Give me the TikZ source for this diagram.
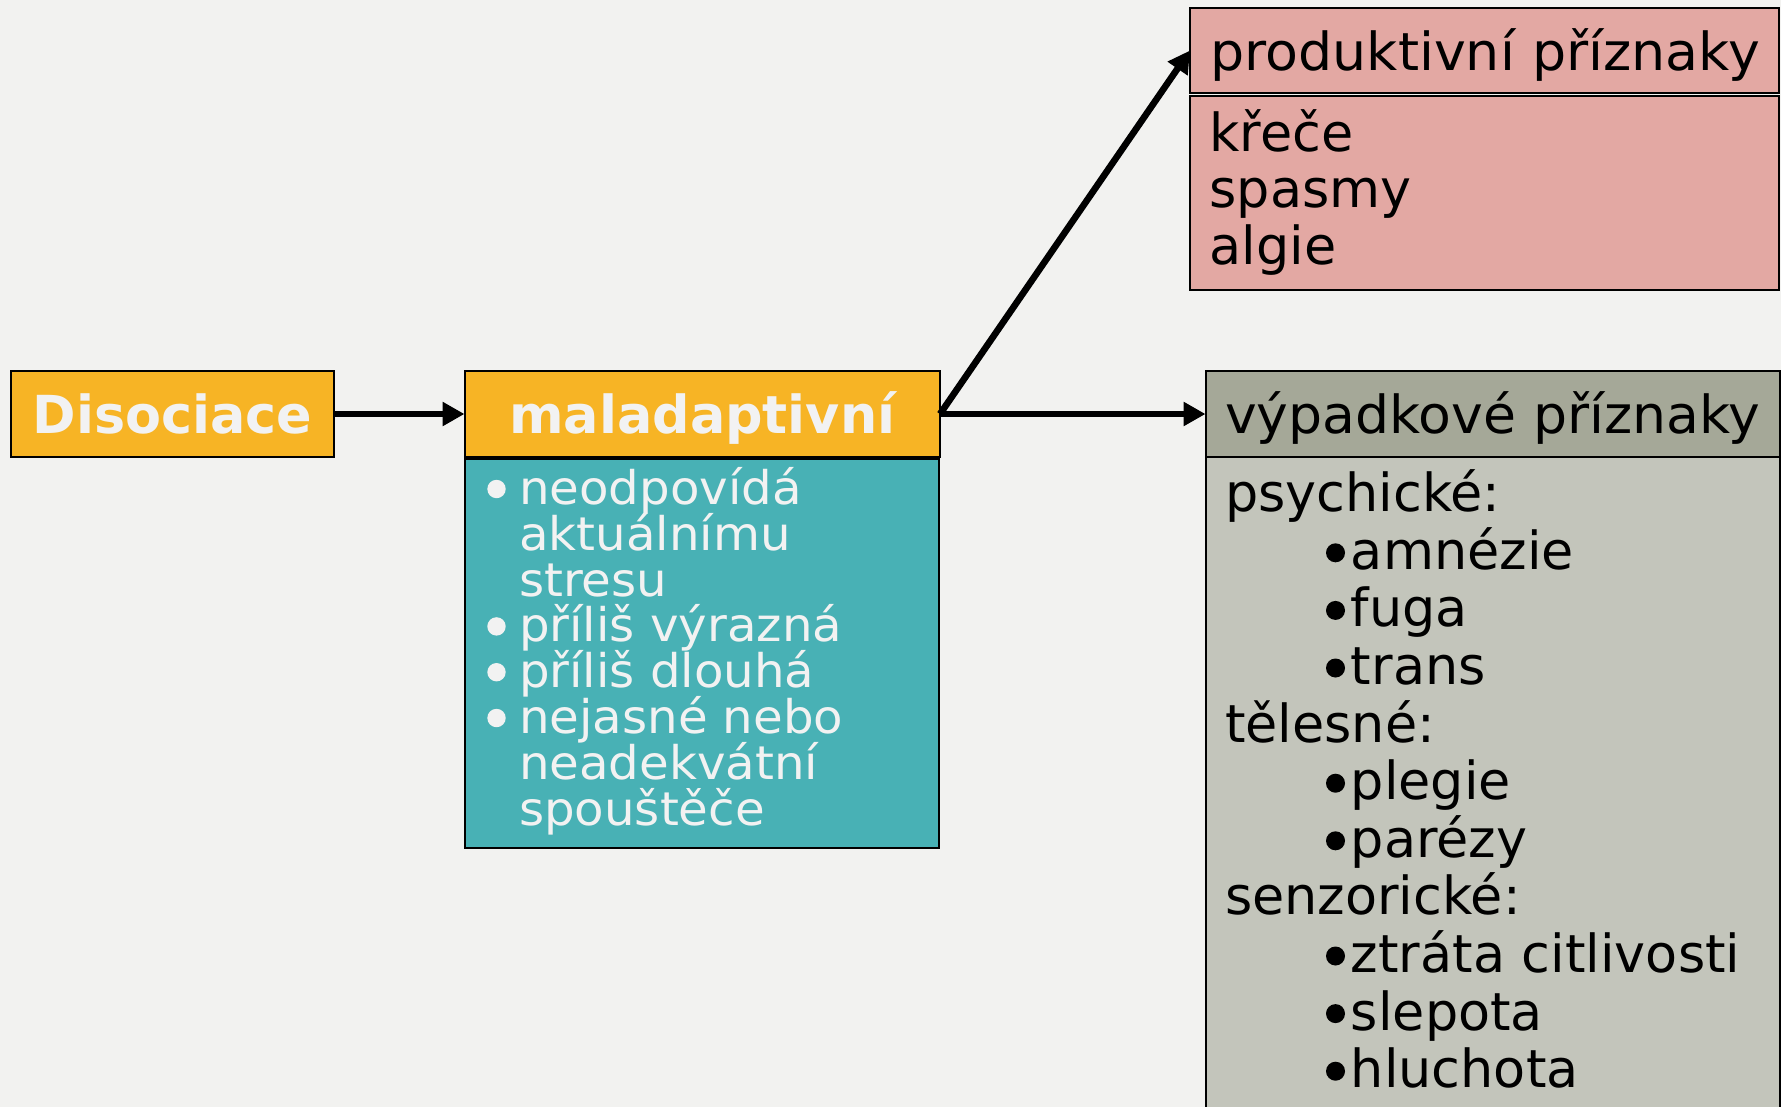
\documentclass[tikz,border=0pt]{standalone}
\usepackage{fontspec}
\usepackage{graphicx}
\setmainfont{DejaVu Sans}
\usetikzlibrary{arrows.meta}
\definecolor{bg}{HTML}{F2F2F0}
\definecolor{orangebox}{HTML}{F7B425}
\definecolor{tealbox}{HTML}{48B1B5}
\definecolor{pinkbox}{HTML}{E3A8A3}
\definecolor{grayhead}{HTML}{A5A898}
\definecolor{graybody}{HTML}{C3C5BB}
\definecolor{txtw}{HTML}{F2F2F2}
\tikzset{
  box/.style={draw=black, line width=1pt, inner sep=0pt, outer sep=0pt},
  arr/.style={draw=black, line width=3.3pt, -{Triangle[length=11pt,width=11.5pt]}},
  bigtxt/.style={inner sep=0pt, outer sep=0pt, font=\fontsize{26.2}{28}\selectfont, text=black},
  hdrtxt/.style={inner sep=0pt, outer sep=0pt, font=\fontsize{26.2}{28}\selectfont\bfseries, text=txtw},
  tealtxt/.style={inner sep=0pt, outer sep=0pt, font=\fontsize{23.2}{23}\selectfont, text=txtw}
}
\begin{document}
\begin{tikzpicture}[x=0.5pt,y=-0.5pt]
\useasboundingbox (0,0) rectangle (1781,1107);
\fill[bg] (0,0) rectangle (1781,1107);

% boxes
\node[box, fill=orangebox, minimum width=161.5pt, minimum height=43pt] (dis) at (172.5,414) {};
\node[box, fill=orangebox, minimum width=237.75pt, minimum height=43pt] (mal) at (702.25,414) {};
\node[box, fill=tealbox, minimum width=237.25pt, minimum height=194.5pt] (teal) at (701.75,653.5) {};
\node[box, fill=pinkbox, minimum width=294.5pt, minimum height=42.5pt] (prodH) at (1484.5,50.5) {};
\node[box, fill=pinkbox, minimum width=294.5pt, minimum height=96.75pt] (prodB) at (1484.5,193.25) {};
\node[box, fill=graybody, minimum width=287.25pt, minimum height=336.5pt] (vypB) at (1492.75,793.5) {};
\node[box, fill=grayhead, minimum width=287.25pt, minimum height=43pt] (vypH) at (1492.75,414) {};

% header texts
\node[hdrtxt, anchor=base] (disT) at (172.5,433.3) {Disociace};
\node[hdrtxt, anchor=base] (malT) at (702.25,433.3) {maladaptivní};
\node[bigtxt, anchor=base west] (prodT) at (1210.5,70.5) {\scalebox{1.027}[1]{produktivní příznaky}};
\node[bigtxt, anchor=base west] (vypT) at (1225,433.3) {\scalebox{1.024}[1]{výpadkové příznaky}};

% teal list
\foreach \t [count=\i] in {neodpovídá, aktuálnímu, stresu, příliš výrazná, příliš dlouhá, nejasné nebo, neadekvátní, spouštěče}
  \node[tealtxt, anchor=base west] (tl\i) at (519,{504.5+45.8*(\i-1)}) {\scalebox{1.04}[1]{\t}};
\foreach \yy in {504.5,641.9,687.7,733.5}
  \fill[txtw] (496.5,{\yy-15.5}) circle[radius=4.6pt];

% productive list
\foreach \t [count=\i] in {křeče, spasmy, algie}
  \node[bigtxt, anchor=base west] (pl\i) at (1209.5,{151.5+56.5*(\i-1)}) {\t};

% deficit list: headings
\foreach \t/\k in {psychické:/0, tělesné:/4, senzorické:/7}
  \node[bigtxt, anchor=base west] (vh\k) at (1225,{511.7+57.6*\k}) {\t};
% deficit list: items with bullets
\foreach \t/\k in {amnézie/1, fuga/2, trans/3, plegie/5, parézy/6, ztráta citlivosti/8, slepota/9, hluchota/10}{
  \node[bigtxt, anchor=base west] (vi\k) at (1320,{511.7+57.6*\k}) {\phantom{•}\t};
  \fill[black] (1335.5,{511.7+57.6*\k-16.5}) circle[radius=4.75pt];
}

% connectors
\draw[arr] (dis.east) -- (mal.west);
\draw[arr] (mal.east) -- (vypH.west);
\draw[arr] (mal.east) -- (prodH.west);
\end{tikzpicture}
\end{document}
